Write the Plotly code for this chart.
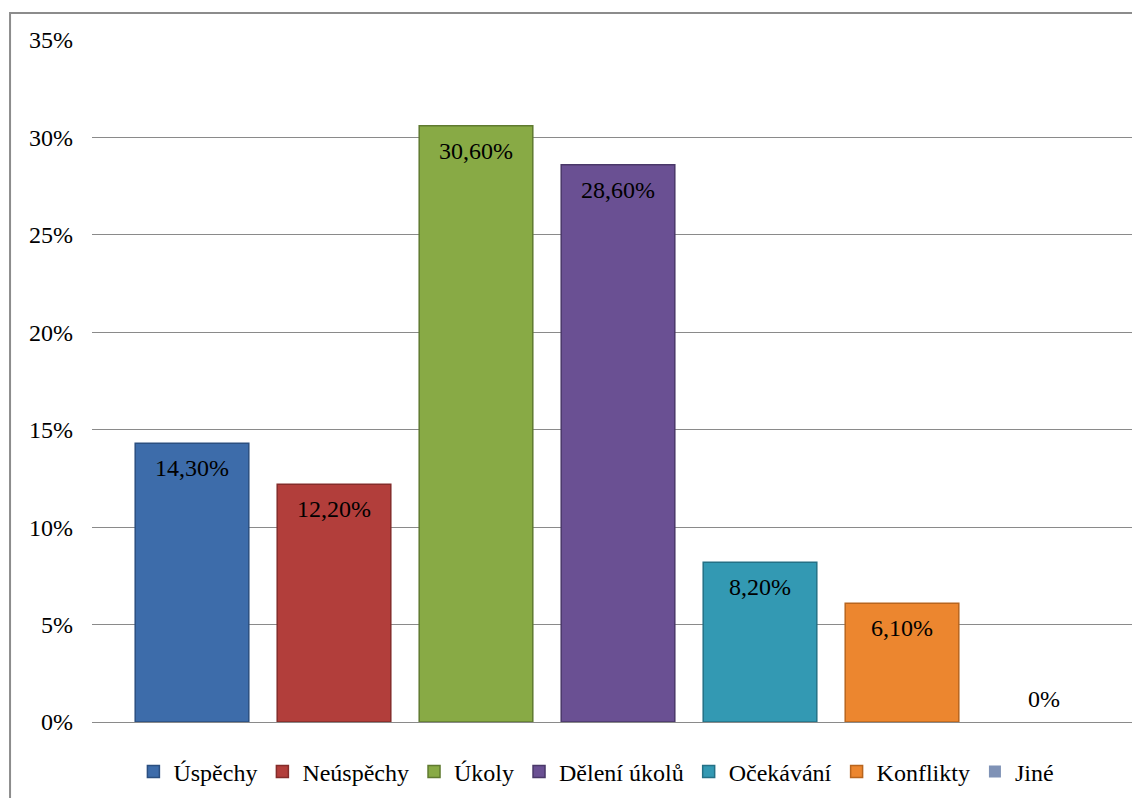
import plotly.graph_objects as go

categories = ["Úspěchy", "Neúspěchy", "Úkoly", "Dělení úkolů", "Očekávání", "Konflikty", "Jiné"]
values = [14.3, 12.2, 30.6, 28.6, 8.2, 6.1, 0.0]
labels = ["14,30%", "12,20%", "30,60%", "28,60%", "8,20%", "6,10%", "0%"]
colors = ["#3D6CAA", "#B23E3B", "#88AA45", "#6A5093", "#3399B3", "#EC862F", "#7F92B6"]
edge_colors = ["#2B4F80", "#842C2A", "#5F7A30", "#4A3869", "#247186", "#B8651E", "#5F7090"]
y_ticks = [0, 5, 10, 15, 20, 25, 30, 35]
y_tick_text = ["0%", "5%", "10%", "15%", "20%", "25%", "30%", "35%"]

FONT = "Liberation Serif"

fig = go.Figure()
for cat, val, col, ec in zip(categories, values, colors, edge_colors):
    fig.add_trace(go.Bar(
        x=[cat], y=[val], name=cat, width=0.8,
        marker=dict(color=col, line=dict(color=ec, width=1.5 if val > 0 else 0)),
        hoverinfo="skip",
    ))

for cat, val, lab in zip(categories, values, labels):
    fig.add_annotation(
        x=cat, y=val, text=lab, showarrow=False,
        yanchor="top" if val > 0 else "bottom",
        yshift=-10 if val > 0 else 8,
        font=dict(family=FONT, size=24, color="#000000"),
    )

fig.add_shape(
    type="rect", xref="paper", yref="paper",
    x0=-0.0788, x1=1.2, y0=-0.3, y1=1.0396,
    line=dict(color="#8c8c8c", width=2), fillcolor="rgba(0,0,0,0)", layer="below",
)

fig.update_layout(
    width=1132, height=798,
    margin=dict(l=92, r=0, t=40, b=76),
    paper_bgcolor="white", plot_bgcolor="white",
    barmode="overlay",
    font=dict(family=FONT, size=24, color="#000000"),
    showlegend=True,
    legend=dict(
        orientation="h", x=0.485, xanchor="center", y=-0.073, yanchor="middle",
        font=dict(family=FONT, size=24, color="#000000"),
        bgcolor="rgba(0,0,0,0)", itemclick=False,
    ),
    xaxis=dict(
        type="category", categoryorder="array", categoryarray=categories,
        range=[-0.7042, 6.6197], showticklabels=False, showgrid=False,
        zeroline=False, showline=False, ticks="", automargin=False,
    ),
    yaxis=dict(
        range=[0, 35], tickvals=y_ticks, ticktext=y_tick_text,
        showgrid=True, gridcolor="#8a8a8a", gridwidth=1.3,
        zeroline=True, zerolinecolor="#8a8a8a", zerolinewidth=1.3,
        showline=False, ticks="", ticklabelstandoff=18, automargin=False,
        tickfont=dict(family=FONT, size=24, color="#000000"),
    ),
)

fig.write_html("out.html")
